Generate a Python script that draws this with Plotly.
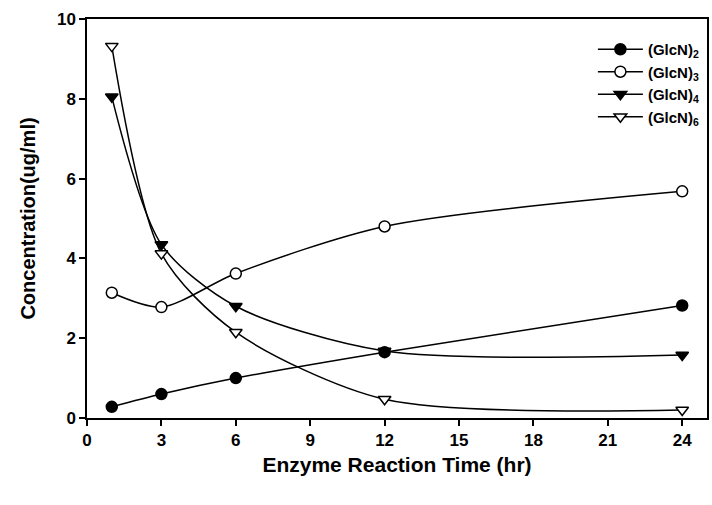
import plotly.graph_objects as go

time_hr = [1, 3, 6, 12, 24]
glcn2 = [0.28, 0.60, 1.00, 1.65, 2.82]
glcn3 = [3.14, 2.78, 3.62, 4.80, 5.68]
glcn4 = [8.05, 4.35, 2.80, 1.68, 1.58]
glcn6 = [9.32, 4.12, 2.15, 0.47, 0.20]

series = [
    ("(GlcN)<sub>2</sub>", glcn2, "circle", "black"),
    ("(GlcN)<sub>3</sub>", glcn3, "circle", "white"),
    ("(GlcN)<sub>4</sub>", glcn4, "triangle-down", "black"),
    ("(GlcN)<sub>6</sub>", glcn6, "triangle-down", "white"),
]

x_ticks = [0, 3, 6, 9, 12, 15, 18, 21, 24]
y_ticks = [0, 2, 4, 6, 8, 10]

fig = go.Figure()
for name, vals, sym, fill in series:
    fig.add_trace(go.Scatter(
        x=time_hr, y=vals, name=name, mode="lines+markers",
        line=dict(color="black", width=1.5, shape="spline", smoothing=0.8),
        marker=dict(symbol=sym, size=11, color=fill,
                    line=dict(color="black", width=1.5)),
    ))

font = "Liberation Sans, Arial, sans-serif"
fig.update_layout(
    width=712, height=505,
    margin=dict(l=87, r=3, t=19, b=87),
    plot_bgcolor="white", paper_bgcolor="white",
    font=dict(family=font, color="black", size=16, weight="bold"),
    showlegend=True,
    legend=dict(x=0.995, xanchor="right", y=0.965, yanchor="top",
                bgcolor="rgba(0,0,0,0)", font=dict(size=15, weight="bold"),
                tracegroupgap=0, itemwidth=45),
    xaxis=dict(range=[0, 25], tickvals=x_ticks, ticktext=[str(v) for v in x_ticks],
               ticks="outside", ticklen=6, tickwidth=1.5, tickcolor="black",
               showline=True, linecolor="black", linewidth=1.5, mirror=True,
               showgrid=False, zeroline=False,
               title=dict(text="Enzyme Reaction Time (hr)", font=dict(size=21, weight="bold"), standoff=8),
               tickfont=dict(size=17, weight="bold")),
    yaxis=dict(range=[0, 10], tickvals=y_ticks, ticktext=[str(v) for v in y_ticks],
               ticks="outside", ticklen=6, tickwidth=1.5, tickcolor="black",
               showline=True, linecolor="black", linewidth=1.5, mirror=True,
               showgrid=False, zeroline=False,
               title=dict(text="Concentration(ug/ml)", font=dict(size=20, weight="bold"), standoff=16),
               tickfont=dict(size=17, weight="bold")),
)

fig.write_html("out.html")
